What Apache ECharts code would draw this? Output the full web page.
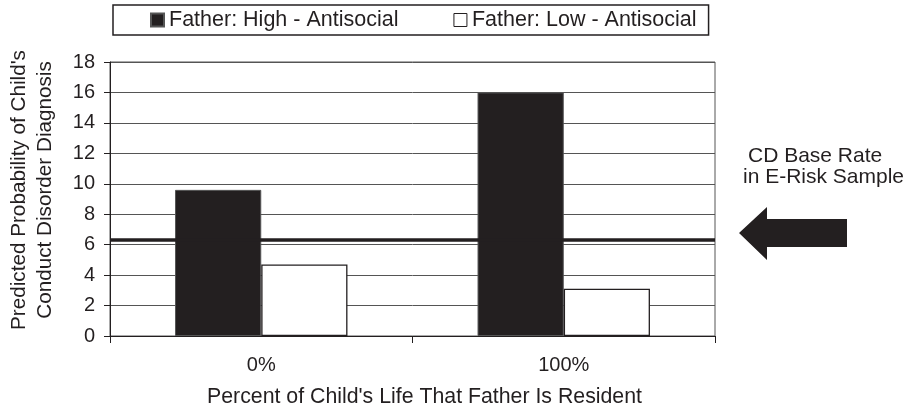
<!DOCTYPE html>
<html>
<head>
<meta charset="utf-8">
<script src="https://cdn.jsdelivr.net/npm/echarts@6/dist/echarts.min.js"></script>
<style>
  html, body { margin: 0; padding: 0; background: #fff; }
  #chart { width: 906px; height: 410px; }
</style>
</head>
<body>
<div id="chart"></div>
<script>
// chart data
var categories = ['0%', '100%'];
var highAntisocial = [9.6, 16.0];
var lowAntisocial = [4.7, 3.1];
var baseRate = 6.35;
var yMin = 0, yMax = 18, yStep = 2;

var FONT = '"Liberation Sans", Arial, sans-serif';
var INK = '#231f20';

var myChart = echarts.init(document.getElementById('chart'));

myChart.setOption({
  animation: false,
  textStyle: { fontFamily: FONT, color: INK },
  legend: {
    left: 113,
    top: 5,
    padding: [4, 12, 4, 37],
    itemGap: 55,
    itemWidth: 13,
    itemHeight: 13,
    borderColor: INK,
    borderWidth: 1.5,
    borderRadius: 0,
    textStyle: { fontFamily: FONT, fontSize: 21.5, color: INK },
    data: [
      { name: 'Father: High - Antisocial', icon: 'rect' },
      { name: 'Father: Low - Antisocial', icon: 'rect',
        itemStyle: { color: '#fff', borderColor: INK, borderWidth: 1 } }
    ]
  },
  grid: {
    left: 110, right: 191, top: 62, bottom: 74,
    outerBoundsMode: 'none',
    show: true, borderColor: '#555', borderWidth: 1
  },
  xAxis: {
    type: 'category',
    data: categories,
    name: "Percent of Child's Life That Father Is Resident",
    nameLocation: 'middle',
    nameGap: 51,
    nameTextStyle: { fontSize: 21.3, color: INK, padding: [0, 0, 0, 24] },
    axisLine: { lineStyle: { color: INK, width: 1 } },
    axisTick: { show: true, length: 7, lineStyle: { color: INK } },
    axisLabel: { fontSize: 20, color: INK, margin: 19 }
  },
  yAxis: {
    type: 'value',
    min: yMin, max: yMax, interval: yStep,
    name: "Predicted Probability of Child's\nConduct Disorder Diagnosis",
    nameLocation: 'middle',
    nameGap: 52,
    nameTextStyle: { fontSize: 20.7, color: INK, lineHeight: 26, padding: [0, 0, 0, 18] },
    axisLine: { show: true, lineStyle: { color: INK, width: 1 } },
    axisTick: { show: true, length: 6, lineStyle: { color: INK } },
    axisLabel: { fontSize: 20, color: INK, margin: 15 },
    splitLine: { lineStyle: { color: '#555', width: 1 } }
  },
  series: [
    {
      name: 'Father: High - Antisocial',
      type: 'bar',
      data: highAntisocial,
      barGap: 0,
      barCategoryGap: '43%',
      itemStyle: { color: INK, borderColor: '#555', borderWidth: 1 },
      markLine: {
        silent: true,
        symbol: 'none',
        label: { show: false },
        lineStyle: { color: INK, width: 3.5, type: 'solid' },
        data: [{ yAxis: baseRate }]
      }
    },
    {
      name: 'Father: Low - Antisocial',
      type: 'bar',
      data: lowAntisocial,
      itemStyle: { color: '#fff', borderColor: INK, borderWidth: 1.3 }
    }
  ],
  graphic: [
    {
      type: 'text', left: 748, top: 146,
      style: { text: 'CD Base Rate', font: '21px ' + FONT, fill: INK }
    },
    {
      type: 'text', left: 743, top: 167,
      style: { text: 'in E-Risk Sample', font: '21px ' + FONT, fill: INK }
    },
    {
      type: 'polygon',
      shape: { points: [[739, 233], [767, 207], [767, 219], [847, 219], [847, 247], [767, 247], [767, 260]] },
      style: { fill: INK }
    }
  ]
});
</script>
</body>
</html>
